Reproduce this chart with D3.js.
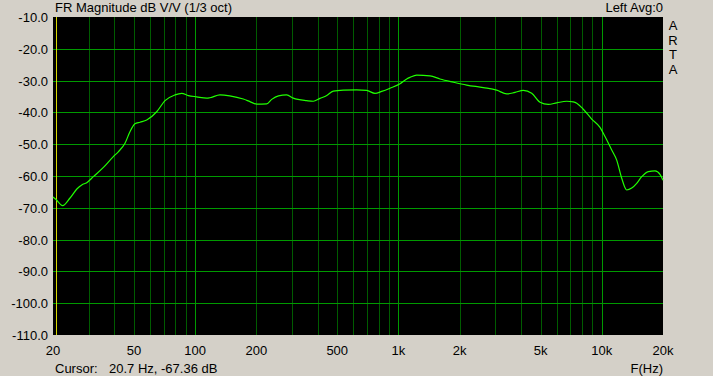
<!DOCTYPE html>
<html>
<head>
<meta charset="utf-8">
<script src="https://cdn.jsdelivr.net/npm/d3@7"></script>
<style>
    body { margin: 0; background: #d4d0c8; }
    svg { display: block; font-family: "Liberation Sans", Arial, sans-serif; font-size: 13px; }
</style>
</head>
<body>
<svg id="chart" width="713" height="376"></svg>
<script>
// measured response, 1/3 oct smoothing
var freqs = [20, 20.7, 22.3, 24.2, 26.2, 27.7, 29.3, 31.6, 35.4, 39.6, 41.9, 45.2, 47.8, 50.6, 53.6, 57.8,
    64.7, 71.1, 79.6, 85.9, 92.6, 101.8, 114, 118, 132.5, 148, 172.6, 186, 201, 225, 238, 257, 282, 304,
    354, 381, 411, 444, 478, 536, 623, 698, 767, 827, 909, 1018, 1098, 1140, 1229, 1429, 1601, 1861,
    2166, 2614, 3044, 3408, 3744, 4112, 4522, 4968, 5458, 6003, 6720, 7244, 7530, 8110, 8920, 9800,
    10370, 11190, 11840, 12530, 13260, 14030, 14850, 15720, 16940, 18270, 19330, 20000];
var magDb = [-66.6, -67.4, -69.3, -67.0, -64.1, -62.8, -62.1, -60.2, -57.3, -53.9, -52.4, -49.7, -46.1, -43.6, -43.1, -42.4,
    -39.8, -36.3, -34.5, -34.0, -34.7, -35.1, -35.5, -35.4, -34.5, -34.8, -35.8, -36.6, -37.4, -37.3, -35.9, -34.8, -34.5, -35.5,
    -36.3, -36.5, -35.6, -34.7, -33.3, -33.0, -32.9, -33.1, -34.0, -33.4, -32.4, -31.0, -29.5, -29.0, -28.3, -28.5, -29.5, -30.5,
    -31.4, -32.2, -33.0, -34.2, -33.7, -33.1, -34.0, -36.8, -37.5, -37.0, -36.5, -36.7, -37.1, -39.0, -42.1, -44.7,
    -47.6, -51.8, -55.0, -60.7, -64.4, -63.8, -62.3, -60.2, -58.6, -58.4, -59.5, -61.3];
var yTicks = [-10, -20, -30, -40, -50, -60, -70, -80, -90, -100, -110];
var xTicks = [20, 50, 100, 200, 500, 1000, 2000, 5000, 10000, 20000];
var xTickLabels = ["20", "50", "100", "200", "500", "1k", "2k", "5k", "10k", "20k"];
var decades = [100, 1000, 10000];
var cursorFreq = 20.7;

var svg = d3.select("#chart");
var plotL = 53, plotR = 663, plotT = 17, plotB = 335;

var x = d3.scaleLog().domain([20, 20000]).range([plotL, plotR]);
var y = d3.scaleLinear().domain([-110, -10]).range([plotB, plotT]);

svg.append("rect")
    .attr("x", plotL).attr("y", plotT)
    .attr("width", plotR - plotL).attr("height", plotB - plotT)
    .attr("fill", "#000");

// vertical grid: 30..90, 200..900, 2k..9k plus decades
var minor = [];
[10, 100, 1000].forEach(function (d) {
    for (var k = 2; k <= 9; k++) {
        var f = d * k;
        if (f > 20 && f < 20000) minor.push(f);
    }
});

svg.append("g").selectAll("line")
    .data(minor)
    .enter().append("line")
    .attr("x1", function (d) { return Math.round(x(d)) + 0.5; })
    .attr("x2", function (d) { return Math.round(x(d)) + 0.5; })
    .attr("y1", plotT).attr("y2", plotB)
    .attr("stroke", "#005c00");

svg.append("g").selectAll("line")
    .data(yTicks.slice(1, -1))
    .enter().append("line")
    .attr("x1", plotL).attr("x2", plotR)
    .attr("y1", function (d) { return Math.round(y(d)) + 0.5; })
    .attr("y2", function (d) { return Math.round(y(d)) + 0.5; })
    .attr("stroke", "#009a00");

svg.append("g").selectAll("line")
    .data(decades)
    .enter().append("line")
    .attr("x1", function (d) { return Math.round(x(d)) + 0.5; })
    .attr("x2", function (d) { return Math.round(x(d)) + 0.5; })
    .attr("y1", plotT).attr("y2", plotB)
    .attr("stroke", "#009a00");

// cursor
svg.append("line")
    .attr("x1", Math.round(x(cursorFreq)) + 0.5)
    .attr("x2", Math.round(x(cursorFreq)) + 0.5)
    .attr("y1", plotT).attr("y2", plotB)
    .attr("stroke", "#d8d800");

var line = d3.line()
    .x(function (d) { return x(d[0]); })
    .y(function (d) { return y(d[1]); })
    .curve(d3.curveMonotoneX);

svg.append("path")
    .datum(d3.zip(freqs, magDb))
    .attr("d", line)
    .attr("fill", "none")
    .attr("stroke", "#20ff00")
    .attr("stroke-width", 1.2);

// axis labels
svg.append("g").selectAll("text")
    .data(yTicks)
    .enter().append("text")
    .attr("x", 48)
    .attr("y", function (d) { return y(d) + 5; })
    .attr("text-anchor", "end")
    .text(function (d) { return d.toFixed(1); });

svg.append("g").selectAll("text")
    .data(xTicks)
    .enter().append("text")
    .attr("x", function (d) { return x(d); })
    .attr("y", 355)
    .attr("text-anchor", "middle")
    .text(function (d, i) { return xTickLabels[i]; });

svg.append("text").attr("x", 55).attr("y", 12).text("FR Magnitude dB V/V (1/3 oct)");
svg.append("text").attr("x", 663).attr("y", 12).attr("text-anchor", "end").text("Left  Avg:0");
svg.append("text").attr("x", 55).attr("y", 373).text("Cursor:");
svg.append("text").attr("x", 109).attr("y", 373).text("20.7 Hz, -67.36 dB");
svg.append("text").attr("x", 663).attr("y", 373).attr("text-anchor", "end").text("F(Hz)");

svg.append("g").selectAll("text")
    .data(["A", "R", "T", "A"])
    .enter().append("text")
    .attr("x", 673)
    .attr("y", function (d, i) { return 30 + i * 14.5; })
    .attr("text-anchor", "middle")
    .text(function (d) { return d; });
</script>
</body>
</html>
